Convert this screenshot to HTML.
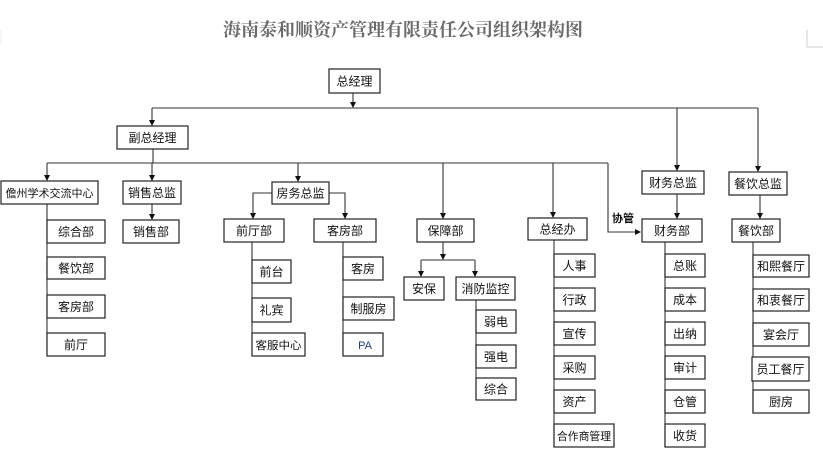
<!DOCTYPE html>
<html><head><meta charset="utf-8"><style>
html,body{margin:0;padding:0;background:#fff;}
svg{display:block;}
text{font-family:"Liberation Sans","Noto Sans CJK SC",sans-serif;font-size:12px;fill:#111;}
.t{font-family:"Liberation Serif","Noto Serif CJK SC",serif;font-size:18px;font-weight:bold;fill:#6a6a6a;}
rect{fill:#fff;stroke:#222;stroke-width:1.2;}
.l{stroke:#333;stroke-width:1.1;fill:none;}
</style></head><body>
<svg width="823" height="461" viewBox="0 0 823 461" xmlns="http://www.w3.org/2000/svg">
<defs><marker id="a" markerWidth="6" markerHeight="6" refX="5" refY="3" orient="auto" markerUnits="userSpaceOnUse"><path d="M0,0 L6,3 L0,6 z" fill="#111"/></marker></defs>
<text class="t" x="403" y="36" text-anchor="middle" textLength="360" lengthAdjust="spacingAndGlyphs">海南泰和顺资产管理有限责任公司组织架构图</text>
<path d="M807 30 V47 H823" stroke="#ccc" fill="none"/>
<path d="M1 30 V45" stroke="#eee" fill="none"/>

<path class="l" d="M353 93 V107" marker-end="url(#a)"/>
<path class="l" d="M152 108 H758"/>
<path class="l" d="M152 108 V125" marker-end="url(#a)"/>
<path class="l" d="M677 108 V170" marker-end="url(#a)"/>
<path class="l" d="M758 108 V171" marker-end="url(#a)"/>
<path class="l" d="M153 149 V163"/>
<path class="l" d="M47 163 H608"/>
<path class="l" d="M47 163 V180" marker-end="url(#a)"/>
<path class="l" d="M152 163 V180" marker-end="url(#a)"/>
<path class="l" d="M298 163 V181" marker-end="url(#a)"/>
<path class="l" d="M443 163 V218" marker-end="url(#a)"/>
<path class="l" d="M553 163 V217" marker-end="url(#a)"/>
<path class="l" d="M608 163 V232 H640" marker-end="url(#a)"/>
<text x="612" y="222" style="font-weight:bold;font-size:11px">协管</text>
<path class="l" d="M152 204 V219" marker-end="url(#a)"/>
<path class="l" d="M272 193 H253 V218" marker-end="url(#a)"/>
<path class="l" d="M329 193 H345 V218" marker-end="url(#a)"/>
<path class="l" d="M677 194 V218" marker-end="url(#a)"/>
<path class="l" d="M760 195 V218" marker-end="url(#a)"/>
<path class="l" d="M443 242 V259" marker-end="url(#a)"/>
<path class="l" d="M421 260 H475"/>
<path class="l" d="M421 260 V276" marker-end="url(#a)"/>
<path class="l" d="M475 260 V276" marker-end="url(#a)"/>
<path class="l" d="M47 204 V356"/>
<path class="l" d="M252 242 V356"/>
<path class="l" d="M343 242 V356"/>
<path class="l" d="M476 300 V400"/>
<path class="l" d="M554 240 V447"/>
<path class="l" d="M665 242 V447"/>
<path class="l" d="M753 242 V413"/>

<g text-anchor="middle">
<rect x="329" y="69" width="51" height="24"/><text x="354.5" y="85.5">总经理</text>
<rect x="117" y="126" width="71" height="23"/><text x="152.5" y="142">副总经理</text>
<rect x="1" y="181" width="97" height="23"/><text x="49.5" y="197" style="font-size:11px" textLength="88" lengthAdjust="spacingAndGlyphs">儋州学术交流中心</text>
<rect x="123" y="181" width="58" height="23"/><text x="152" y="197">销售总监</text>
<rect x="123" y="220" width="56" height="23"/><text x="151" y="236">销售部</text>
<rect x="272" y="182" width="57" height="22"/><text x="300.5" y="197.5">房务总监</text>
<rect x="224" y="219" width="60" height="23"/><text x="254" y="235">前厅部</text>
<rect x="314" y="219" width="62" height="23"/><text x="345" y="235">客房部</text>
<rect x="47" y="220" width="58" height="23"/><text x="76" y="236">综合部</text>
<rect x="47" y="257" width="58" height="22"/><text x="76" y="272.5">餐饮部</text>
<rect x="47" y="295" width="58" height="23"/><text x="76" y="311">客房部</text>
<rect x="47" y="333" width="58" height="23"/><text x="76" y="349">前厅</text>
<rect x="252" y="260" width="39" height="23"/><text x="271.5" y="276">前台</text>
<rect x="252" y="298" width="39" height="24"/><text x="271.5" y="314.5">礼宾</text>
<rect x="252" y="333" width="53" height="23"/><text x="278.5" y="349" style="font-size:11px" textLength="46" lengthAdjust="spacingAndGlyphs">客服中心</text>
<rect x="343" y="257" width="40" height="23"/><text x="363" y="273">客房</text>
<rect x="343" y="297" width="51" height="23"/><text x="368.5" y="313">制服房</text>
<rect x="343" y="333" width="40" height="23"/><text x="365" y="349" style="fill:#1f3a80;font-size:11px">PA</text>
<rect x="417" y="219" width="57" height="23"/><text x="445.5" y="235">保障部</text>
<rect x="404" y="277" width="40" height="23"/><text x="424" y="293">安保</text>
<rect x="456" y="277" width="59" height="23"/><text x="485.5" y="293">消防监控</text>
<rect x="476" y="310" width="40" height="23"/><text x="496" y="326">弱电</text>
<rect x="476" y="345" width="40" height="23"/><text x="496" y="361">强电</text>
<rect x="476" y="378" width="40" height="22"/><text x="496" y="393.5">综合</text>
<rect x="528" y="218" width="59" height="22"/><text x="557.5" y="233.5">总经办</text>
<rect x="554" y="254" width="41" height="23"/><text x="574.5" y="270">人事</text>
<rect x="554" y="288" width="41" height="23"/><text x="574.5" y="304">行政</text>
<rect x="554" y="322" width="41" height="23"/><text x="574.5" y="338">宣传</text>
<rect x="554" y="356" width="41" height="23"/><text x="574.5" y="372">采购</text>
<rect x="554" y="390" width="41" height="23"/><text x="574.5" y="406">资产</text>
<rect x="554" y="424" width="60" height="23"/><text x="584" y="440" style="font-size:11px" textLength="54" lengthAdjust="spacingAndGlyphs">合作商管理</text>
<rect x="642" y="171" width="62" height="23"/><text x="673" y="187">财务总监</text>
<rect x="642" y="219" width="60" height="23"/><text x="672" y="235">财务部</text>
<rect x="665" y="254" width="40" height="23"/><text x="685" y="270">总账</text>
<rect x="665" y="288" width="40" height="23"/><text x="685" y="304">成本</text>
<rect x="665" y="322" width="40" height="23"/><text x="685" y="338">出纳</text>
<rect x="665" y="356" width="40" height="23"/><text x="685" y="372">审计</text>
<rect x="665" y="390" width="40" height="23"/><text x="685" y="406">仓管</text>
<rect x="665" y="424" width="40" height="23"/><text x="685" y="440">收货</text>
<rect x="729" y="172" width="58" height="23"/><text x="758" y="188">餐饮总监</text>
<rect x="732" y="219" width="48" height="23"/><text x="756" y="235">餐饮部</text>
<rect x="753" y="255" width="56" height="22"/><text x="781" y="270.5">和熙餐厅</text>
<rect x="753" y="289" width="56" height="22"/><text x="781" y="304.5">和衷餐厅</text>
<rect x="753" y="323" width="56" height="23"/><text x="781" y="339">宴会厅</text>
<rect x="752" y="357" width="57" height="24"/><text x="780.5" y="373.5">员工餐厅</text>
<rect x="753" y="390" width="56" height="23"/><text x="781" y="406">厨房</text>
</g>
</svg>
</body></html>
